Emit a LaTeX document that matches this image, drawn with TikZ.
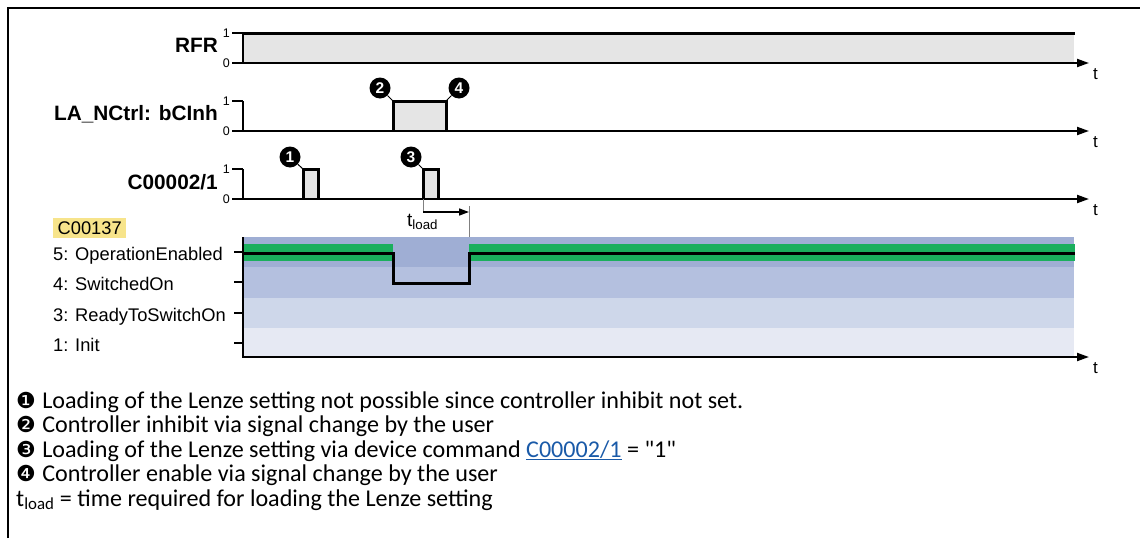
\documentclass[tikz,border=0pt]{standalone}
\usepackage{fontspec}
\setmainfont{Liberation Sans}
\newfontfamily\notefont{Carlito}
\newfontfamily\dingfont{DejaVu Sans}
\usetikzlibrary{arrows.meta,positioning,calc}
\definecolor{pulse}{HTML}{E5E5E5}
\definecolor{stfive}{HTML}{9FAED4}
\definecolor{stfour}{HTML}{B4C0DF}
\definecolor{stthree}{HTML}{CED7EA}
\definecolor{stone}{HTML}{E6E9F3}
\definecolor{enabled}{HTML}{1AAF5D}
\definecolor{codehl}{HTML}{F7E48B}
\definecolor{link}{HTML}{1A5AA8}
\tikzset{sig/.style={line width=3pt},taxis/.style={line width=2pt,-{Triangle[length=12pt,width=8pt]}},tickln/.style={line width=1.3pt},lvl/.style={font=\fontsize{12.5}{13}\selectfont,anchor=east,inner sep=1pt},signame/.style={font=\bfseries\fontsize{20.8}{22}\selectfont,anchor=base east,inner sep=0pt},stlab/.style={font=\fontsize{18.3}{20}\selectfont,anchor=base west,inner sep=0pt},tlab/.style={font=\fontsize{17}{18}\selectfont,anchor=base west,inner sep=0pt},badge/.style={circle,fill=black,text=white,inner sep=0pt,minimum size=21pt,font=\bfseries\fontsize{15.5}{15.5}\selectfont},lead/.style={line width=1pt},note/.style={font=\notefont\fontsize{24.1}{26}\selectfont,anchor=base west,inner sep=0pt}}
\newcommand{\dingnum}[1]{{\dingfont\fontsize{22}{22}\selectfont #1}\hspace{1pt}}

\begin{document}
\begin{tikzpicture}[x=1pt,y=-1pt]
\useasboundingbox (0,0) rectangle (1140,538);
\draw[line width=2pt] (8,538) -- (8,8) -- (1140,8);
% signals
\fill[pulse] (243,33) rectangle (1074,63);
\draw[sig] (243,33) -- (1075,33);
\draw[sig,fill=pulse] (393,131) -- (393,101) coordinate (inhon) -- (446,101) coordinate (inhoff) -- (446,131);
\draw[sig,fill=pulse] (303,199) -- (303,169) coordinate (cmdone) -- (318,169) -- (318,199);
\draw[sig,fill=pulse] (423,199) -- (423,169) coordinate (cmdtwo) -- (438,169) -- (438,199);
\foreach \nm/\lo/\hi in {rfr/63/33,inh/131/101,cmd/199/169}{
  \draw[tickln] (232,\hi) -- (243,\hi) (232,\lo) -- (243,\lo);
  \draw[taxis] (243,\hi) -- (243,\lo) -- (1089,\lo);
  \node[lvl] (\nm-hi) at (231,\hi) {1};
  \node[lvl] (\nm-lo) at (231,\lo) {0};
  \node[tlab] (\nm-t) at (1093,\lo+16) {t};
}
\node[signame] (rfr) at (218,52) {RFR};
\node[signame] (inh) at (218,120) {LA\_NCtrl: bCInh};
\node[signame] (cmd) at (218,189) {C00002/1};
\node[badge] (m1) at (290,157) {1};
\node[badge] (m2) at (380,88) {2};
\node[badge] (m3) at (411,157) {3};
\node[badge] (m4) at (459,88) {4};
\draw[lead] (m1) -- (cmdone);
\draw[lead] (m2) -- (inhon);
\draw[lead] (m3) -- (cmdtwo);
\draw[lead] (m4) -- (inhoff);
% t_load
\coordinate (lds) at (423,212);
\coordinate (lde) at (469,212);
\draw[black!50,line width=1pt] (cmdtwo |- 0,199) -- (423,213);
\draw[line width=1.5pt,-{Triangle[length=10pt,width=7pt]}] (lds) -- (lde);
\draw[black!50,line width=1pt] (469,206) -- (469,253);
\node[anchor=base west,inner sep=0pt,font=\fontsize{19}{20}\selectfont] (tld) at (407,226) {t\textsubscript{load}};
% states
\fill[stone] (243,328) rectangle (1074,357);
\fill[stthree] (243,298) rectangle (1074,328);
\fill[stfour] (243,267) rectangle (1074,298);
\fill[stfive] (243,237) rectangle (1074,267);
\fill[enabled] (243,244) rectangle (393,261);
\fill[enabled] (469,244) rectangle (1075,261);
\draw[sig] (243,253) -- (393,253) -- (393,283) -- (469,283) -- (469,253) -- (1075,253);
\draw[taxis] (243,237) -- (243,357) -- (1089,357);
\node[tlab] (st-t) at (1093,373) {t};
\foreach \y/\txt in {252/5: OperationEnabled,282/4: SwitchedOn,313/3: ReadyToSwitchOn,343/1: Init}{
  \draw[tickln] (234,\y) -- (243,\y);
  \node[stlab] at (53,\y+8) {\txt};
}
\node[fill=codehl,minimum width=73pt,minimum height=20pt,inner sep=0pt,anchor=west,font=\fontsize{18.3}{20}\selectfont] (reg) at (53,228) {C00137};
% notes
\node[note] (n1) at (16,408) {\dingnum{❶} Loading of the Lenze setting not possible since controller inhibit not set.};
\node[note] (n2) at (16,432.5) {\dingnum{❷} Controller inhibit via signal change by the user};
\node[note] (n3) at (16,457) {\dingnum{❸} Loading of the Lenze setting via device command {\color{link}\underline{C00002/1}} = "1"};
\node[note] (n4) at (16,481.5) {\dingnum{❹} Controller enable via signal change by the user};
\node[note] (n5) at (16,506) {t\textsubscript{load} = time required for loading the Lenze setting};
\end{tikzpicture}
\end{document}
